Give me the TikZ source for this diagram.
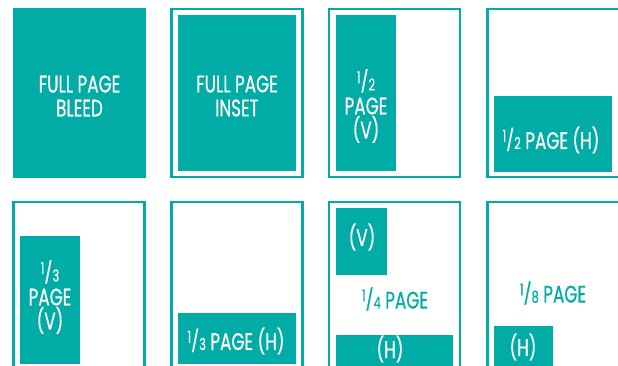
\documentclass[tikz,border=0pt]{standalone}
\usepackage{fontspec}
\usepackage{graphicx}
\setmainfont{Poppins}[FakeStretch=0.7, FakeBold=0.6]

\definecolor{pageteal}{RGB}{0,172,165}

% small built-up fraction, 1 over n
\newcommand{\vfr}[2]{\raisebox{0.3em}{\scalebox{0.68}{#1}}\raisebox{0.06em}{\scalebox{1}[0.88]{/}}\scalebox{0.68}{#2}}

\tikzset{
  frame/.style={draw=pageteal, line width=2.6pt},
  block/.style={fill=pageteal},
  lbl/.style={text=white, align=center, inner sep=0pt, font=\fontsize{24}{24}\selectfont},
  tlbl/.style={lbl, text=pageteal},
}

\begin{document}
\begin{tikzpicture}[x=1pt, y=-1pt]
    \useasboundingbox (0,0) rectangle (618,366);
    \clip (0,0) rectangle (618,366);

    % Top row: full page and half page
    \fill[block] (13,8) rectangle (146,178);
    \node[lbl] (bleed) at (79.5,96) {FULL PAGE\\BLEED};

    \draw[frame] (171.5,9) rectangle (302.5,177);
    \fill[block] (178,15) rectangle (296,171);
    \node[lbl] (inset) at (237,96) {FULL PAGE\\INSET};

    \draw[frame] (329,9) rectangle (460,177);
    \fill[block] (336,15) rectangle (396,171);
    \node[lbl] (halfv) at (366,106) {\vfr{1}{2}\\PAGE\\(V)};

    \draw[frame] (487.5,9) rectangle (620,177);
    \fill[block] (494,96) rectangle (612,172);
    \node[lbl] (halfh) at (551,140) {\vfr{1}{2} PAGE (H)};

    % Bottom row: third, quarter and eighth page
    \draw[frame] (13.5,202) rectangle (144.5,370);
    \fill[block] (20,236) rectangle (80,364);
    \node[lbl] (thirdv) at (50,297) {\vfr{1}{3}\\PAGE\\(V)};

    \draw[frame] (171.5,202) rectangle (302.5,370);
    \fill[block] (178,313) rectangle (296,364);
    \node[lbl] (thirdh) at (236,341) {\vfr{1}{3} PAGE (H)};

    \draw[frame] (329,202) rectangle (460,370);
    \fill[block] (336,208) rectangle (387,275);
    \node[lbl] (quarterv) at (362,237) {(V)};
    \node[tlbl] (quarter) at (395,299) {\vfr{1}{4} PAGE};
    \fill[block] (336,335) rectangle (453,368);
    \node[lbl] (quarterh) at (390,349) {(H)};

    \draw[frame] (487.5,202) rectangle (620,370);
    \node[tlbl] (eighth) at (553,293) {\vfr{1}{8} PAGE};
    \fill[block] (494,326) rectangle (553,368);
    \node[lbl] (eighthh) at (523,347) {(H)};
\end{tikzpicture}
\end{document}
